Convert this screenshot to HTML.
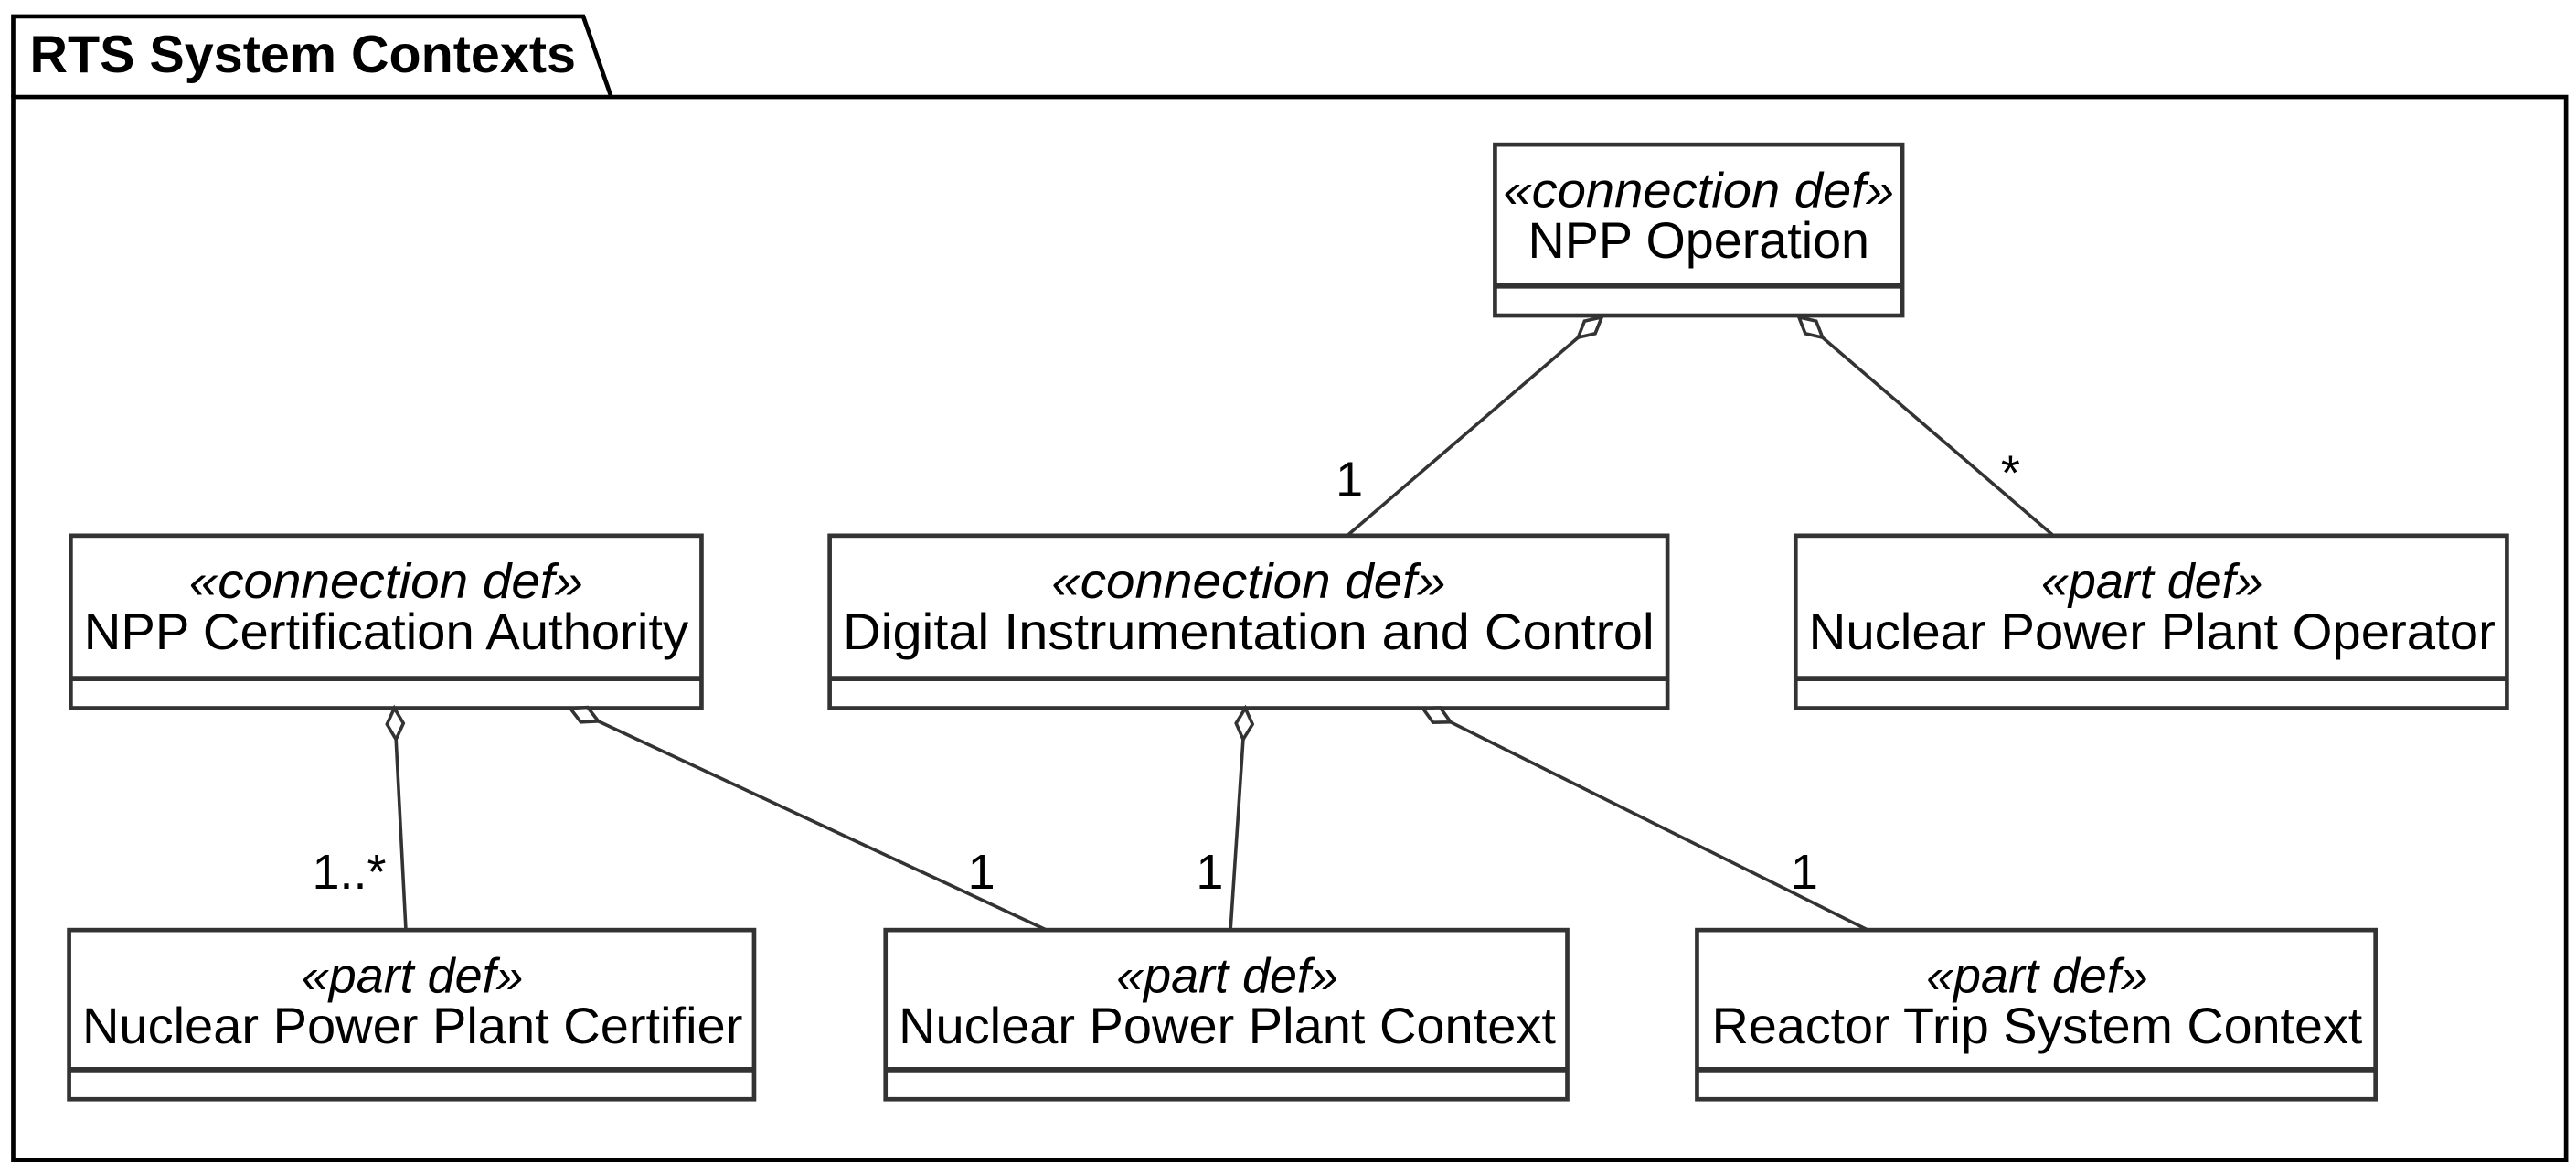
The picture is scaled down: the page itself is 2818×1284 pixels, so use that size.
<!DOCTYPE html>
<html><head><meta charset="utf-8"><style>
html,body{margin:0;padding:0;background:#fff}
svg{display:block}
text{font-family:"Liberation Sans",Arial,sans-serif;fill:#000}
.st{font-style:italic;font-size:30px}
.nm{font-size:31px}
.lb{font-size:30px}
</style></head><body>
<svg width="2818" height="1284" viewBox="0 0 1568 714.5" xmlns="http://www.w3.org/2000/svg">
<rect width="1568" height="714.5" fill="#fff"/>
<path d="M8,59 L1562,59 L1562,706 L8,706 Z" fill="none" stroke="#000" stroke-width="2.6"/>
<path d="M8,59 L8,10 L355,10 L372,59" fill="none" stroke="#000" stroke-width="2.6"/>
<text x="18" y="44" style="font-weight:bold;font-size:32px">RTS System Contexts</text>

<g fill="#fff" stroke="#333" stroke-width="2.6">
<rect x="910" y="88" width="248" height="104"/>
<rect x="43" y="326" width="384" height="105"/>
<rect x="505" y="326" width="510" height="105"/>
<rect x="1093" y="326" width="433" height="105"/>
<rect x="42" y="566" width="417" height="103"/>
<rect x="539" y="566" width="415" height="103"/>
<rect x="1033" y="566" width="413" height="103"/>
</g>
<g stroke="#333" stroke-width="3.2">
<line x1="911" y1="174" x2="1157" y2="174"/>
<line x1="44" y1="413" x2="426" y2="413"/>
<line x1="506" y1="413" x2="1014" y2="413"/>
<line x1="1094" y1="413" x2="1525" y2="413"/>
<line x1="43" y1="651" x2="458" y2="651"/>
<line x1="540" y1="651" x2="953" y2="651"/>
<line x1="1034" y1="651" x2="1445" y2="651"/>
</g>

<g text-anchor="middle">
<text class="st" x="1034" y="126" textLength="238" lengthAdjust="spacingAndGlyphs">«connection def»</text><text class="nm" x="1034" y="157">NPP Operation</text>
<text class="st" x="235" y="364" textLength="240" lengthAdjust="spacingAndGlyphs">«connection def»</text><text class="nm" x="235" y="395" textLength="368" lengthAdjust="spacingAndGlyphs">NPP Certification Authority</text>
<text class="st" x="760" y="364" textLength="240" lengthAdjust="spacingAndGlyphs">«connection def»</text><text class="nm" x="760" y="395" textLength="494" lengthAdjust="spacingAndGlyphs">Digital Instrumentation and Control</text>
<text class="st" x="1310" y="364">«part def»</text><text class="nm" x="1310" y="395" textLength="418" lengthAdjust="spacingAndGlyphs">Nuclear Power Plant Operator</text>
<text class="st" x="251" y="604">«part def»</text><text class="nm" x="251" y="635" textLength="402" lengthAdjust="spacingAndGlyphs">Nuclear Power Plant Certifier</text>
<text class="st" x="747" y="604">«part def»</text><text class="nm" x="747" y="635" textLength="400" lengthAdjust="spacingAndGlyphs">Nuclear Power Plant Context</text>
<text class="st" x="1240" y="604">«part def»</text><text class="nm" x="1240" y="635" textLength="396" lengthAdjust="spacingAndGlyphs">Reactor Trip System Context</text>
</g>

<g stroke="#333" stroke-width="2" fill="#fff">
<polygon points="975,193 971,203 960.6,205.4 964.5,195.4"/><line x1="960.6" y1="205.4" x2="820" y2="326"/>
<polygon points="1095,193 1098.9,203 1109.4,205.4 1105.5,195.4"/><line x1="1109.4" y1="205.4" x2="1250" y2="326"/>
<polygon points="240,431 235.5,440.8 241,450 245.5,440.2"/><line x1="241" y1="450" x2="247" y2="566"/>
<polygon points="347,431 353.5,439.5 364.2,439 357.7,430.5"/><line x1="364.2" y1="439" x2="637" y2="566"/>
<polygon points="758,431 752.4,440.2 756.7,450 762.4,440.8"/><line x1="756.7" y1="450" x2="749" y2="566"/>
<polygon points="866,431 872.3,439.7 883,439.5 876.7,430.7"/><line x1="883" y1="439.5" x2="1137" y2="566"/>
</g>

<text class="lb" x="813" y="302">1</text>
<text class="lb" x="1218" y="298">*</text>
<text class="lb" x="190" y="541">1..*</text>
<text class="lb" x="589" y="541">1</text>
<text class="lb" x="728" y="541">1</text>
<text class="lb" x="1090" y="541">1</text>
</svg>
</body></html>
